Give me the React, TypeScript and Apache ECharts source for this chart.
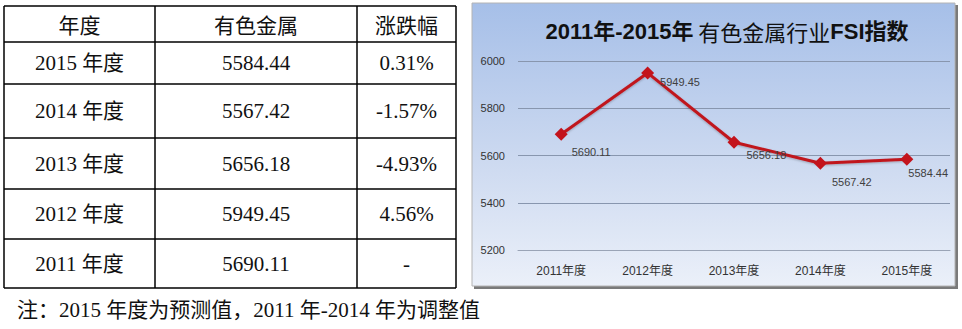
import React, { useEffect, useRef } from "react";
import * as echarts from "echarts";

// ---- data ----
const categories = ["2011年度", "2012年度", "2013年度", "2014年度", "2015年度"];
const fsiValues = [5690.11, 5949.45, 5656.18, 5567.42, 5584.44];
const yMin = 5200;
const yMax = 6000;
const yInterval = 200;

const tableHeaders = ["年度", "有色金属", "涨跌幅"];
const tableYears = ["2015 年度", "2014 年度", "2013 年度", "2012 年度", "2011 年度"];
const tableValues = ["5584.44", "5567.42", "5656.18", "5949.45", "5690.11"];
const tableChanges = ["0.31%", "-1.57%", "-4.93%", "4.56%", "-"];

const chartTitleParts = ["2011年-2015年", " 有色金属行业", "FSI指数"];
const noteText = "注：2015 年度为预测值，2011 年-2014 年为调整值";

// ---- layout (not data) ----
const rowLines = [6, 42, 84, 138, 189, 239, 288];
const colLines = [4, 155, 357, 456];
const labelOffsets = [
  [0, 18],
  [2, 9],
  [2, 13],
  [1, 19],
  [-9, 14],
];

const bodyFont = "'Liberation Serif', 'Noto Sans CJK SC', serif";
const headFont = "'Noto Sans CJK SC', sans-serif";
const sansFont = "'Liberation Sans', 'Noto Sans CJK SC', sans-serif";

export default function App() {
  const ref = useRef<HTMLDivElement>(null);

  useEffect(() => {
    if (!ref.current) return;
    const chart = echarts.init(ref.current, null, { renderer: "svg" });

    const graphics: any[] = [];

    // chart box background
    graphics.push({
      type: "rect",
      z: -10,
      shape: { x: 474, y: 5, width: 484, height: 284 },
      style: { fill: "#7a7a7a" },
    });
    graphics.push({
      type: "rect",
      z: -9,
      shape: { x: 472, y: 3, width: 483, height: 283 },
      style: {
        fill: new echarts.graphic.LinearGradient(0, 0, 0, 1, [
          { offset: 0, color: "#a6bfe8" },
          { offset: 0.55, color: "#ccd9f0" },
          { offset: 1, color: "#ebf0f9" },
        ]),
        stroke: "#b4b4b4",
        lineWidth: 1,
      },
    });

    // table lines
    rowLines.forEach((y) => {
      graphics.push({
        type: "line",
        shape: { x1: colLines[0], y1: y, x2: colLines[colLines.length - 1], y2: y },
        style: { stroke: "#000", lineWidth: 1.5 },
      });
    });
    colLines.forEach((x) => {
      graphics.push({
        type: "line",
        shape: { x1: x, y1: rowLines[0], x2: x, y2: rowLines[rowLines.length - 1] },
        style: { stroke: "#000", lineWidth: 1.5 },
      });
    });

    const colCenter = (i: number) => (colLines[i] + colLines[i + 1]) / 2;
    const rowCenter = (i: number) => (rowLines[i] + rowLines[i + 1]) / 2;

    tableHeaders.forEach((h, i) => {
      graphics.push({
        type: "text",
        x: colCenter(i),
        y: rowCenter(0),
        style: {
          text: h,
          font: `21px ${headFont}`,
          fill: "#111",
          align: "center",
          verticalAlign: "middle",
        },
      });
    });
    const cols = [tableYears, tableValues, tableChanges];
    tableYears.forEach((_, r) => {
      cols.forEach((col, c) => {
        graphics.push({
          type: "text",
          x: colCenter(c),
          y: rowCenter(r + 1),
          style: {
            text: col[r],
            font: `21px ${bodyFont}`,
            fill: "#111",
            align: "center",
            verticalAlign: "middle",
          },
        });
      });
    });

    // note
    graphics.push({
      type: "text",
      x: 17,
      y: 310,
      style: {
        text: noteText,
        font: `21px ${bodyFont}`,
        fill: "#111",
        align: "left",
        verticalAlign: "middle",
      },
    });

    // chart title
    graphics.push({
      type: "text",
      x: 727,
      y: 31,
      style: {
        text: `{b|${chartTitleParts[0]}}{r|${chartTitleParts[1]}}{b|${chartTitleParts[2]}}`,
        align: "center",
        verticalAlign: "middle",
        rich: {
          b: {
            fontSize: 22,
            fontWeight: "bold",
            fontFamily: sansFont,
            fill: "#111",
            color: "#111",
          },
          r: {
            fontSize: 22,
            fontWeight: "normal",
            fontFamily: headFont,
            fill: "#111",
            color: "#111",
          },
        },
      },
    });

    chart.setOption({
      animation: false,
      graphic: { elements: graphics },
      grid: { left: 518, right: 12, top: 61, bottom: 79, containLabel: false },
      xAxis: {
        type: "category",
        data: categories,
        boundaryGap: true,
        axisLine: { show: true, lineStyle: { color: "#9aa4b6", width: 1 } },
        axisTick: { show: false },
        axisLabel: {
          color: "#333",
          fontSize: 12,
          fontFamily: sansFont,
          margin: 15,
        },
      },
      yAxis: {
        type: "value",
        min: yMin,
        max: yMax,
        interval: yInterval,
        axisLine: { show: false },
        axisTick: { show: false },
        axisLabel: {
          color: "#333",
          fontSize: 11,
          fontFamily: sansFont,
          margin: 13,
          formatter: (v: number) => String(v),
        },
        splitLine: { show: true, lineStyle: { color: "#8896ae", width: 1 } },
      },
      series: [
        {
          type: "line",
          data: fsiValues.map((v, i) => ({
            value: v,
            label: { offset: labelOffsets[i] },
          })),
          symbol: "diamond",
          symbolSize: 13,
          itemStyle: { color: "#c3131c" },
          lineStyle: {
            color: "#c0161e",
            width: 3,
            shadowColor: "rgba(0,0,0,0.25)",
            shadowBlur: 2,
            shadowOffsetY: 1,
          },
          label: {
            show: true,
            position: "right",
            distance: 4,
            color: "#404040",
            fontSize: 11,
            fontFamily: sansFont,
            formatter: (p: any) => p.value.toFixed(2),
          },
        },
      ],
    });

    return () => chart.dispose();
  }, []);

  return (
    <div
      ref={ref}
      style={{ position: "fixed", left: 0, top: 0, width: 962, height: 329, background: "#fff" }}
    />
  );
}
